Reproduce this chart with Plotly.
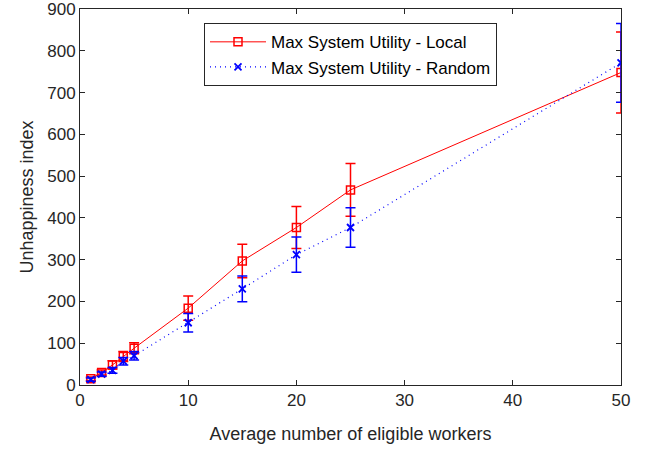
import plotly.graph_objects as go

x_vals = [1, 2, 3, 4, 5, 10, 15, 20, 25, 50]
local_mean = [15, 30, 48, 68, 88, 184, 297, 377, 467, 748]
local_err = [4, 6, 10, 12, 13, 29, 40, 50, 63, 97]
random_mean = [13, 26, 35, 57, 70, 149, 230, 312, 377, 771]
random_err = [4, 5, 7, 9, 10, 22, 31, 42, 47, 94]

x_ticks = [0, 10, 20, 30, 40, 50]
y_ticks = [0, 100, 200, 300, 400, 500, 600, 700, 800, 900]

fig = go.Figure()
fig.add_trace(go.Scatter(
    x=x_vals, y=local_mean, mode="lines+markers",
    name="Max System Utility - Local",
    line=dict(color="red", width=1),
    marker=dict(symbol="square-open", size=8, color="red", line=dict(width=1.5)),
    error_y=dict(type="data", array=local_err, visible=True, color="red", thickness=1.5, width=5),
))
fig.add_trace(go.Scatter(
    x=x_vals, y=random_mean, mode="lines+markers",
    name="Max System Utility - Random",
    line=dict(color="blue", width=1.2, dash="1px,4px"),
    marker=dict(symbol="x-thin-open", size=7, color="blue", line=dict(width=1.8, color="blue")),
    error_y=dict(type="data", array=random_err, visible=True, color="blue", thickness=1.5, width=5),
))

axis_common = dict(
    showline=True, linecolor="#262626", linewidth=1, mirror="ticks",
    ticks="inside", ticklen=5, tickcolor="#262626", tickwidth=1,
    showgrid=False, zeroline=False, automargin=False, ticklabeloverflow="allow",
    tickfont=dict(family="Liberation Sans, Arial, sans-serif", size=17, color="#262626"),
)

fig.update_layout(
    width=650, height=452,
    margin=dict(l=80, r=29, t=9, b=67),
    paper_bgcolor="white", plot_bgcolor="white",
    font=dict(family="Liberation Sans, Arial, sans-serif", color="#262626"),
    xaxis=dict(range=[0, 50], tickvals=x_ticks,
               title=dict(text="Average number of eligible workers", font=dict(size=18), standoff=17),
               **axis_common),
    yaxis=dict(range=[0, 900], tickvals=y_ticks,
               title=dict(text="Unhappiness index", font=dict(size=18), standoff=8),
               **axis_common),
    legend=dict(x=0.5, y=0.962, xanchor="center", yanchor="top",
                bgcolor="white", bordercolor="#262626", borderwidth=1,
                itemwidth=56,
                font=dict(size=17, color="black"), tracegroupgap=0),
    showlegend=True,
)

fig.write_html("out.html", config={"displayModeBar": False},
               post_script="document.body.style.margin='0';")
